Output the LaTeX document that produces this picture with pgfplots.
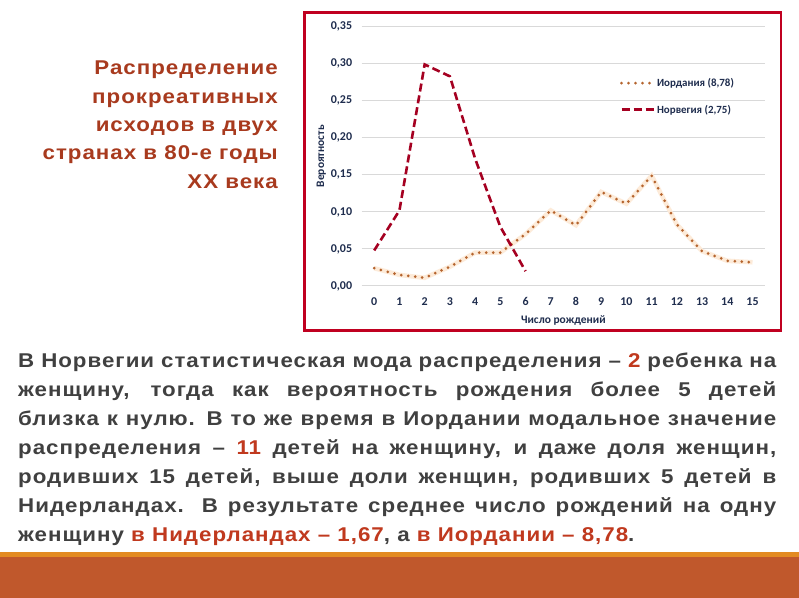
\documentclass[border=0pt]{standalone}
\usepackage{fontspec}
\setmainfont{Liberation Sans}
\newfontfamily\wide[FakeStretch=1.12, LetterSpace=5]{Liberation Sans}
\newfontfamily\calibri{Carlito}
\usepackage{pgfplots}
\pgfplotsset{compat=1.18}
\definecolor{titlecol}{HTML}{A83A1E}
\definecolor{bodycol}{HTML}{404040}
\definecolor{hlcol}{HTML}{C0391E}
\definecolor{barcol}{HTML}{C0582C}
\definecolor{barline}{HTML}{E38B22}
\definecolor{framecol}{HTML}{C00020}
\definecolor{nor}{HTML}{A50021}
\definecolor{jor}{HTML}{B5642E}
\definecolor{halo}{HTML}{FDEBD9}
\definecolor{navy}{HTML}{1F2D4E}
\definecolor{gridc}{HTML}{D9D9D9}
\begin{document}
\begin{tikzpicture}[x=1bp,y=1bp]
\path[use as bounding box, fill=white] (0,0) rectangle (799,598);
\fill[barcol] (0,0) rectangle (799,41.3);
\fill[barline] (0,41.3) rectangle (799,46.3);
\draw[framecol, line width=2.3bp] (304.5,585.5) rectangle (781,267.5);
% title
\foreach \t [count=\i] in {Распределение,прокреативных,исходов в двух,странах в 80-е годы,XX века}{
  \node[anchor=base east, inner sep=0, text=titlecol, font=\wide\fontsize{20}{24}\selectfont\bfseries] at (278,{598-75-28.3*(\i-1)}) {\t};
}
% body
\begin{scope}[every node/.style={anchor=base west, inner sep=0, text=bodycol, font=\wide\fontsize{20}{24}\selectfont\bfseries}]
\node at (18,230.7) {\makebox[758bp][s]{В Норвегии статистическая мода распределения – \textcolor{hlcol}{2} ребенка на}};
\node at (18,201.6) {\makebox[758bp][s]{женщину, тогда как вероятность рождения более 5 детей}};
\node at (18,172.6) {\makebox[758bp][s]{близка к нулю. В то же время в Иордании модальное значение}};
\node at (18,143.5) {\makebox[758bp][s]{распределения – \textcolor{hlcol}{11} детей на женщину, и даже доля женщин,}};
\node at (18,114.4) {\makebox[758bp][s]{родивших 15 детей, выше доли женщин, родивших 5 детей в}};
\node at (18,85.4) {\makebox[758bp][s]{Нидерландах. В результате среднее число рождений на одну}};
\node at (18,56.3) {женщину \textcolor{hlcol}{в Нидерландах – 1,67}, а \textcolor{hlcol}{в Иордании – 8,78}.};
\end{scope}
\begin{axis}[
  at={(361.6bp,312bp)}, anchor=south west,
  scale only axis, width=403.5bp, height=259.3bp,
  xmin=-0.5, xmax=15.5, ymin=0, ymax=0.35,
  xtick={0,...,15}, ytick={0,0.05,...,0.351},
  axis line style={draw=none}, major tick style={draw=none},
  ymajorgrids, grid style={gridc, line width=1bp},
  /pgf/number format/assume math mode=true,
  yticklabel style={/pgf/number format/.cd, fixed, fixed zerofill, precision=2, use comma, /tikz/.cd, xshift=-6bp},
  xticklabel style={yshift=-7.5bp, text height=8.5bp, text depth=0bp},
  ticklabel style={font=\calibri\fontsize{12}{14}\selectfont\bfseries, text=navy},
  xlabel={Число рождений}, ylabel={Вероятность},
  xlabel style={yshift=-3.5bp}, ylabel style={yshift=-2bp},
  label style={font=\calibri\fontsize{11.5}{13}\selectfont\bfseries, text=navy},
  legend style={draw=none, fill=none, at={(0.64,0.731)}, anchor=west, inner sep=0pt,
    font=\calibri\fontsize{11}{13}\selectfont\bfseries, text=navy, row sep=15bp,
    nodes={inner sep=1bp}},
  legend cell align=left,
  legend image code/.code={\draw[#1] (0bp,0bp) -- (33bp,0bp);},
]
\addplot[halo, line width=4.5bp, forget plot] coordinates {
(0,0.024)(1,0.015)(2,0.011)(3,0.026)(4,0.045)(5,0.045)(6,0.070)(7,0.102)(8,0.082)(9,0.127)(10,0.111)(11,0.149)(12,0.083)(13,0.047)(14,0.034)(15,0.032)};
\addplot[jor, line width=3bp, line cap=round, dash pattern=on 0bp off 7bp] coordinates {
(0,0.024)(1,0.015)(2,0.011)(3,0.026)(4,0.045)(5,0.045)(6,0.070)(7,0.102)(8,0.082)(9,0.127)(10,0.111)(11,0.149)(12,0.083)(13,0.047)(14,0.034)(15,0.032)};
\addlegendentry{Иордания (8,78)}
\addplot[nor, line width=2.6bp, dash pattern=on 8bp off 4bp] coordinates {
(0,0.048)(1,0.102)(2,0.299)(3,0.283)(4,0.172)(5,0.080)(6,0.020)};
\addlegendentry{Норвегия (2,75)}
\end{axis}
\end{tikzpicture}
\end{document}
